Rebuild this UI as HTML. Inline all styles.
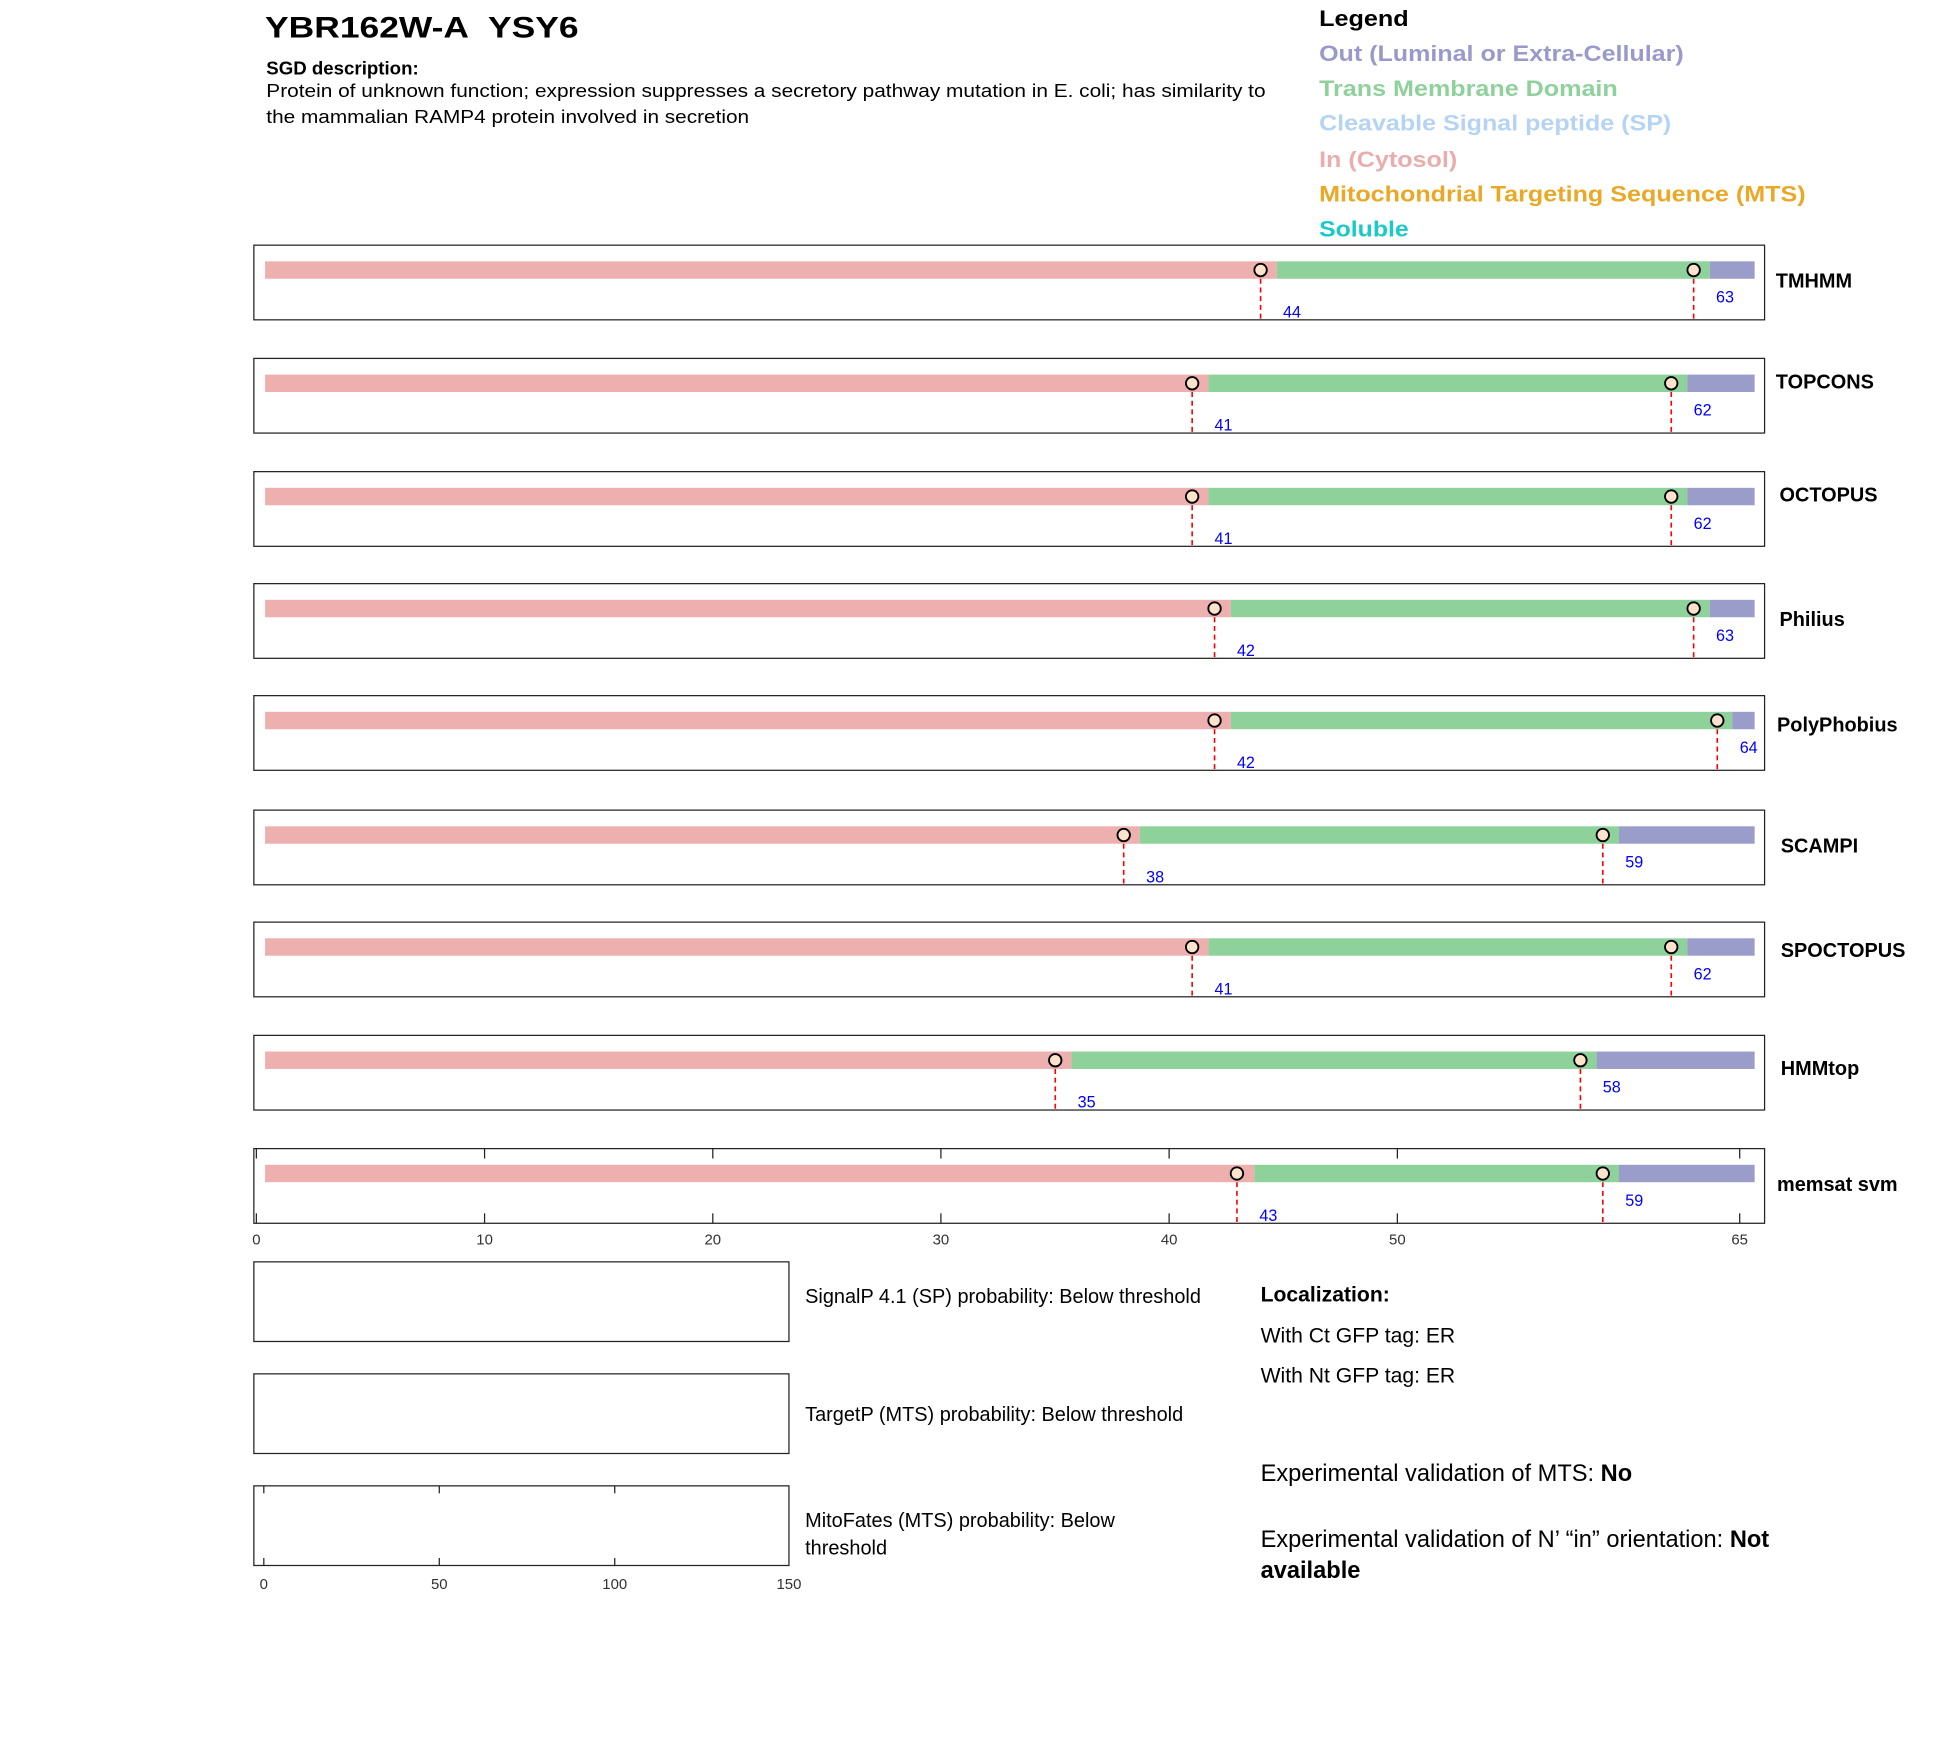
<!DOCTYPE html>
<html><head><meta charset="utf-8"><style>html,body{margin:0;padding:0;background:#fff;width:1950px;height:1761px;overflow:hidden}svg{display:block}text{font-family:"Liberation Sans",Arial,sans-serif}</style></head>
<body>
<svg width="1950" height="1761" viewBox="0 0 1567 1415.1" xmlns="http://www.w3.org/2000/svg">
<text x="213" y="30" font-size="24" font-weight="bold" textLength="252" lengthAdjust="spacingAndGlyphs">YBR162W-A&#160; YSY6</text>
<text x="214" y="60" font-size="15" font-weight="bold">SGD description:</text>
<text x="214" y="78" font-size="15" textLength="803" lengthAdjust="spacingAndGlyphs">Protein of unknown function; expression suppresses a secretory pathway mutation in E. coli; has similarity to</text>
<text x="214" y="99" font-size="15" textLength="388" lengthAdjust="spacingAndGlyphs">the mammalian RAMP4 protein involved in secretion</text>
<g font-size="18" font-weight="bold">
<text x="1060" y="21" textLength="72" lengthAdjust="spacingAndGlyphs">Legend</text>
<text x="1060" y="49" fill="#9999cc" textLength="293" lengthAdjust="spacingAndGlyphs">Out (Luminal or Extra-Cellular)</text>
<text x="1060" y="77" fill="#8fd19b" textLength="240" lengthAdjust="spacingAndGlyphs">Trans Membrane Domain</text>
<text x="1060" y="105" fill="#b5d3f2" textLength="283" lengthAdjust="spacingAndGlyphs">Cleavable Signal peptide (SP)</text>
<text x="1060" y="134" fill="#eaadad" textLength="111" lengthAdjust="spacingAndGlyphs">In (Cytosol)</text>
<text x="1060" y="162" fill="#eaa826" textLength="391" lengthAdjust="spacingAndGlyphs">Mitochondrial Targeting Sequence (MTS)</text>
<text x="1060" y="190" fill="#1cc9c9" textLength="72" lengthAdjust="spacingAndGlyphs">Soluble</text>
</g>
<g id="rows" font-size="13">
<g transform="translate(0,197)"><rect x="204" y="0" width="1214" height="60" fill="none" stroke="#222" stroke-width="1"/><rect x="213" y="13" width="813" height="14" fill="#eeafaf"/><rect x="1026" y="13" width="348" height="14" fill="#8fd19b"/><rect x="1374" y="13" width="36" height="14" fill="#9a9cca"/><line x1="1013" y1="20" x2="1013" y2="60" stroke="red" stroke-width="1.3" stroke-dasharray="4,3"/><line x1="1361" y1="20" x2="1361" y2="60" stroke="red" stroke-width="1.3" stroke-dasharray="4,3"/><circle cx="1013" cy="20" r="5" fill="#fde3cc" stroke="#000" stroke-width="1.5"/><circle cx="1361" cy="20" r="5" fill="#fde3cc" stroke="#000" stroke-width="1.5"/><text x="1031" y="58" fill="#00f">44</text><text x="1379" y="46" fill="#00f">63</text><text x="1427" y="34" font-size="16" font-weight="bold">TMHMM</text></g>
<g transform="translate(0,288)"><rect x="204" y="0" width="1214" height="60" fill="none" stroke="#222" stroke-width="1"/><rect x="213" y="13" width="758" height="14" fill="#eeafaf"/><rect x="971" y="13" width="385" height="14" fill="#8fd19b"/><rect x="1356" y="13" width="54" height="14" fill="#9a9cca"/><line x1="958" y1="20" x2="958" y2="60" stroke="red" stroke-width="1.3" stroke-dasharray="4,3"/><line x1="1343" y1="20" x2="1343" y2="60" stroke="red" stroke-width="1.3" stroke-dasharray="4,3"/><circle cx="958" cy="20" r="5" fill="#fde3cc" stroke="#000" stroke-width="1.5"/><circle cx="1343" cy="20" r="5" fill="#fde3cc" stroke="#000" stroke-width="1.5"/><text x="976" y="58" fill="#00f">41</text><text x="1361" y="46" fill="#00f">62</text><text x="1427" y="24" font-size="16" font-weight="bold">TOPCONS</text></g>
<g transform="translate(0,379)"><rect x="204" y="0" width="1214" height="60" fill="none" stroke="#222" stroke-width="1"/><rect x="213" y="13" width="758" height="14" fill="#eeafaf"/><rect x="971" y="13" width="385" height="14" fill="#8fd19b"/><rect x="1356" y="13" width="54" height="14" fill="#9a9cca"/><line x1="958" y1="20" x2="958" y2="60" stroke="red" stroke-width="1.3" stroke-dasharray="4,3"/><line x1="1343" y1="20" x2="1343" y2="60" stroke="red" stroke-width="1.3" stroke-dasharray="4,3"/><circle cx="958" cy="20" r="5" fill="#fde3cc" stroke="#000" stroke-width="1.5"/><circle cx="1343" cy="20" r="5" fill="#fde3cc" stroke="#000" stroke-width="1.5"/><text x="976" y="58" fill="#00f">41</text><text x="1361" y="46" fill="#00f">62</text><text x="1430" y="24" font-size="16" font-weight="bold">OCTOPUS</text></g>
<g transform="translate(0,469)"><rect x="204" y="0" width="1214" height="60" fill="none" stroke="#222" stroke-width="1"/><rect x="213" y="13" width="776" height="14" fill="#eeafaf"/><rect x="989" y="13" width="385" height="14" fill="#8fd19b"/><rect x="1374" y="13" width="36" height="14" fill="#9a9cca"/><line x1="976" y1="20" x2="976" y2="60" stroke="red" stroke-width="1.3" stroke-dasharray="4,3"/><line x1="1361" y1="20" x2="1361" y2="60" stroke="red" stroke-width="1.3" stroke-dasharray="4,3"/><circle cx="976" cy="20" r="5" fill="#fde3cc" stroke="#000" stroke-width="1.5"/><circle cx="1361" cy="20" r="5" fill="#fde3cc" stroke="#000" stroke-width="1.5"/><text x="994" y="58" fill="#00f">42</text><text x="1379" y="46" fill="#00f">63</text><text x="1430" y="34" font-size="16" font-weight="bold">Philius</text></g>
<g transform="translate(0,559)"><rect x="204" y="0" width="1214" height="60" fill="none" stroke="#222" stroke-width="1"/><rect x="213" y="13" width="776" height="14" fill="#eeafaf"/><rect x="989" y="13" width="403" height="14" fill="#8fd19b"/><rect x="1392" y="13" width="18" height="14" fill="#9a9cca"/><line x1="976" y1="20" x2="976" y2="60" stroke="red" stroke-width="1.3" stroke-dasharray="4,3"/><line x1="1380" y1="20" x2="1380" y2="60" stroke="red" stroke-width="1.3" stroke-dasharray="4,3"/><circle cx="976" cy="20" r="5" fill="#fde3cc" stroke="#000" stroke-width="1.5"/><circle cx="1380" cy="20" r="5" fill="#fde3cc" stroke="#000" stroke-width="1.5"/><text x="994" y="58" fill="#00f">42</text><text x="1398" y="46" fill="#00f">64</text><text x="1428" y="29" font-size="16" font-weight="bold">PolyPhobius</text></g>
<g transform="translate(0,651)"><rect x="204" y="0" width="1214" height="60" fill="none" stroke="#222" stroke-width="1"/><rect x="213" y="13" width="703" height="14" fill="#eeafaf"/><rect x="916" y="13" width="385" height="14" fill="#8fd19b"/><rect x="1301" y="13" width="109" height="14" fill="#9a9cca"/><line x1="903" y1="20" x2="903" y2="60" stroke="red" stroke-width="1.3" stroke-dasharray="4,3"/><line x1="1288" y1="20" x2="1288" y2="60" stroke="red" stroke-width="1.3" stroke-dasharray="4,3"/><circle cx="903" cy="20" r="5" fill="#fde3cc" stroke="#000" stroke-width="1.5"/><circle cx="1288" cy="20" r="5" fill="#fde3cc" stroke="#000" stroke-width="1.5"/><text x="921" y="58" fill="#00f">38</text><text x="1306" y="46" fill="#00f">59</text><text x="1431" y="34" font-size="16" font-weight="bold">SCAMPI</text></g>
<g transform="translate(0,741)"><rect x="204" y="0" width="1214" height="60" fill="none" stroke="#222" stroke-width="1"/><rect x="213" y="13" width="758" height="14" fill="#eeafaf"/><rect x="971" y="13" width="385" height="14" fill="#8fd19b"/><rect x="1356" y="13" width="54" height="14" fill="#9a9cca"/><line x1="958" y1="20" x2="958" y2="60" stroke="red" stroke-width="1.3" stroke-dasharray="4,3"/><line x1="1343" y1="20" x2="1343" y2="60" stroke="red" stroke-width="1.3" stroke-dasharray="4,3"/><circle cx="958" cy="20" r="5" fill="#fde3cc" stroke="#000" stroke-width="1.5"/><circle cx="1343" cy="20" r="5" fill="#fde3cc" stroke="#000" stroke-width="1.5"/><text x="976" y="58" fill="#00f">41</text><text x="1361" y="46" fill="#00f">62</text><text x="1431" y="28" font-size="16" font-weight="bold">SPOCTOPUS</text></g>
<g transform="translate(0,832)"><rect x="204" y="0" width="1214" height="60" fill="none" stroke="#222" stroke-width="1"/><rect x="213" y="13" width="648" height="14" fill="#eeafaf"/><rect x="861" y="13" width="422" height="14" fill="#8fd19b"/><rect x="1283" y="13" width="127" height="14" fill="#9a9cca"/><line x1="848" y1="20" x2="848" y2="60" stroke="red" stroke-width="1.3" stroke-dasharray="4,3"/><line x1="1270" y1="20" x2="1270" y2="60" stroke="red" stroke-width="1.3" stroke-dasharray="4,3"/><circle cx="848" cy="20" r="5" fill="#fde3cc" stroke="#000" stroke-width="1.5"/><circle cx="1270" cy="20" r="5" fill="#fde3cc" stroke="#000" stroke-width="1.5"/><text x="866" y="58" fill="#00f">35</text><text x="1288" y="46" fill="#00f">58</text><text x="1431" y="32" font-size="16" font-weight="bold">HMMtop</text></g>
<g transform="translate(0,923)"><rect x="204" y="0" width="1214" height="60" fill="none" stroke="#222" stroke-width="1"/>
<g stroke="#222" stroke-width="1"><line x1="206" y1="0" x2="206" y2="8"/><line x1="389.4" y1="0" x2="389.4" y2="8"/><line x1="572.8" y1="0" x2="572.8" y2="8"/><line x1="756.1" y1="0" x2="756.1" y2="8"/><line x1="939.5" y1="0" x2="939.5" y2="8"/><line x1="1122.9" y1="0" x2="1122.9" y2="8"/><line x1="1398" y1="0" x2="1398" y2="8"/><line x1="206" y1="52" x2="206" y2="60"/><line x1="389.4" y1="52" x2="389.4" y2="60"/><line x1="572.8" y1="52" x2="572.8" y2="60"/><line x1="756.1" y1="52" x2="756.1" y2="60"/><line x1="939.5" y1="52" x2="939.5" y2="60"/><line x1="1122.9" y1="52" x2="1122.9" y2="60"/><line x1="1398" y1="52" x2="1398" y2="60"/></g>
<rect x="213" y="13" width="795" height="14" fill="#eeafaf"/><rect x="1008" y="13" width="293" height="14" fill="#8fd19b"/><rect x="1301" y="13" width="109" height="14" fill="#9a9cca"/><line x1="994" y1="20" x2="994" y2="60" stroke="red" stroke-width="1.3" stroke-dasharray="4,3"/><line x1="1288" y1="20" x2="1288" y2="60" stroke="red" stroke-width="1.3" stroke-dasharray="4,3"/><circle cx="994" cy="20" r="5" fill="#fde3cc" stroke="#000" stroke-width="1.5"/><circle cx="1288" cy="20" r="5" fill="#fde3cc" stroke="#000" stroke-width="1.5"/><text x="1012" y="58" fill="#00f">43</text><text x="1306" y="46" fill="#00f">59</text><text x="1428" y="34" font-size="16" font-weight="bold">memsat svm</text>
<g font-size="12" fill="#333" text-anchor="middle"><text x="206" y="77">0</text><text x="389.4" y="77">10</text><text x="572.8" y="77">20</text><text x="756.1" y="77">30</text><text x="939.5" y="77">40</text><text x="1122.9" y="77">50</text><text x="1398" y="77">65</text></g>
</g>
</g>
<rect x="204" y="1014" width="430" height="64" fill="none" stroke="#222"/>
<rect x="204" y="1104" width="430" height="64" fill="none" stroke="#222"/>
<rect x="204" y="1194" width="430" height="64" fill="none" stroke="#222"/>
<g stroke="#222"><line x1="212" y1="1194" x2="212" y2="1200"/><line x1="353" y1="1194" x2="353" y2="1200"/><line x1="494" y1="1194" x2="494" y2="1200"/><line x1="212" y1="1252" x2="212" y2="1258"/><line x1="353" y1="1252" x2="353" y2="1258"/><line x1="494" y1="1252" x2="494" y2="1258"/></g>
<g font-size="12" fill="#333" text-anchor="middle"><text x="212" y="1277">0</text><text x="353" y="1277">50</text><text x="494" y="1277">100</text><text x="634" y="1277">150</text></g>
<g font-size="16"><text x="647" y="1047">SignalP 4.1 (SP) probability: Below threshold</text><text x="647" y="1142">TargetP (MTS) probability: Below threshold</text><text x="647" y="1227">MitoFates (MTS) probability: Below</text><text x="647" y="1249">threshold</text></g>
<text x="1013" y="1046" font-size="17" font-weight="bold">Localization:</text>
<text x="1013" y="1079" font-size="17">With Ct GFP tag: ER</text>
<text x="1013" y="1111" font-size="17">With Nt GFP tag: ER</text>
<text x="1013" y="1190" font-size="19">Experimental validation of MTS: <tspan font-weight="bold">No</tspan></text>
<text x="1013" y="1243" font-size="19">Experimental validation of N’ “in” orientation: <tspan font-weight="bold">Not</tspan></text>
<text x="1013" y="1268" font-size="19" font-weight="bold">available</text>
</svg>
</body></html>
